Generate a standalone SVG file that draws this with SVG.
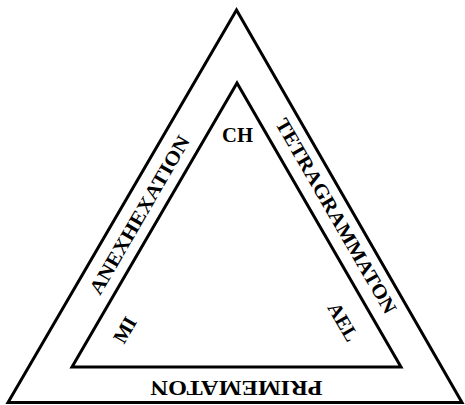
<svg xmlns="http://www.w3.org/2000/svg" width="465" height="405" viewBox="0 0 465 405">
<style>
.tri{fill:none;stroke:#000;stroke-width:3;stroke-linejoin:miter}
.lbl{font-family:"Liberation Serif","Times New Roman",serif;font-weight:bold;font-size:20px;fill:#000;text-anchor:middle}
</style>
<rect width="465" height="405" fill="#fff"/>
<g id="outer-triangle">
<polygon class="tri" points="236.5,10 8,402.5 462,402.5"/>
</g>
<g id="inner-triangle">
<polygon class="tri" points="237,83 72,367 401,367"/>
</g>
<g id="labels">
<text id="anexhexation" class="lbl" transform="translate(139.5,215) rotate(-59.8)" x="0" y="6.6" textLength="180" lengthAdjust="spacingAndGlyphs">ANEXHEXATION</text>
<text id="tetragrammaton" class="lbl" transform="translate(336,216) rotate(60)" x="0" y="6.6" textLength="222" lengthAdjust="spacingAndGlyphs">TETRAGRAMMATON</text>
<text id="primematon" class="lbl" transform="translate(236.5,388) rotate(180)" x="0" y="6.6" textLength="172" lengthAdjust="spacingAndGlyphs">PRIMEMATON</text>
<text id="ch" class="lbl" x="237.5" y="142" textLength="31" lengthAdjust="spacingAndGlyphs">CH</text>
<text id="mi" class="lbl" transform="translate(125,330) rotate(-60)" x="0" y="6.6">MI</text>
<text id="ael" class="lbl" transform="translate(343,322) rotate(60)" x="0" y="6.6">AEL</text>
</g>
</svg>
